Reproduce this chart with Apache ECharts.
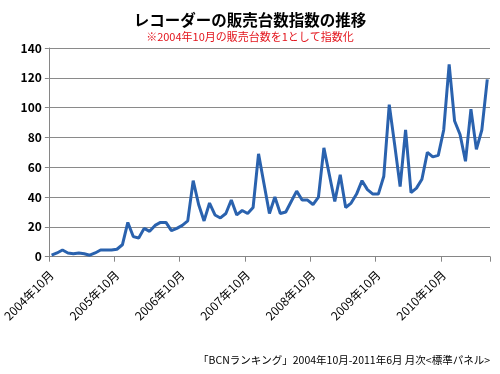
<!DOCTYPE html>
<html>
<head>
<meta charset="utf-8">
<script src="https://cdn.jsdelivr.net/npm/echarts@6/dist/echarts.min.js"></script>
<style>html,body{margin:0;padding:0;background:#fff}#c{width:500px;height:374px}</style>
</head>
<body>
<div id="c"></div>
<script>
// Month labels from 2004年10月 to 2011年6月
const startYear = 2004, startMonth = 10, monthCount = 81;
const categories = [];
for (let i = 0; i < monthCount; i++) {
  const m0 = startMonth - 1 + i;
  categories.push((startYear + Math.floor(m0 / 12)) + '年' + (m0 % 12 + 1) + '月');
}
// Sales index (2004年10月 = 1)
const indexValues = [
  1, 2.5, 4.5, 2.5, 2, 2.5, 2, 1, 2.5, 4.5, 4.5, 4.5,
  5, 8, 23, 13.5, 12.5, 19, 17, 21, 23, 23, 17.5, 19,
  21, 24, 51, 35, 24, 36, 28, 26, 29, 38, 28, 31,
  29, 33, 69, 49, 29, 40, 29, 30, 37, 44, 38, 38,
  35, 40, 73, 55, 37, 55, 33, 36, 42, 51, 45, 42,
  42, 54, 102, 75, 47, 85, 43, 46, 52, 70, 67, 68,
  85, 129, 91, 82, 64, 99, 72, 85, 119
];
const yTicks = { min: 0, max: 140, interval: 20 };
const titleText = 'レコーダーの販売台数指数の推移';
const subtitleText = '※2004年10月の販売台数を1として指数化';
const sourceText = '「BCNランキング」2004年10月-2011年6月 月次<標準パネル>';

const font = '"Noto Sans CJK JP", "Noto Sans", sans-serif';
const chart = echarts.init(document.getElementById('c'), null, { renderer: 'canvas' });
chart.setOption({
  animation: false,
  textStyle: { fontFamily: font },
  title: [
    { text: titleText, left: 'center', top: 7,
      textStyle: { fontFamily: font, fontSize: 15.5, fontWeight: 'bold', color: '#000' } },
    { text: subtitleText, left: 'center', top: 26,
      textStyle: { fontFamily: font, fontSize: 11, fontWeight: 'normal', color: '#e3141c' } }
  ],
  graphic: [
    { type: 'text', right: 10, top: 355,
      style: { text: sourceText, fontFamily: font, fontSize: 10.5, fill: '#000' } }
  ],
  grid: { left: 47.7, right: 10, top: 48, bottom: 117.3, containLabel: false },
  xAxis: {
    type: 'category',
    data: categories,
    boundaryGap: true,
    axisLine: { show: true, lineStyle: { color: '#868686', width: 1 } },
    axisTick: { show: true, interval: 11, length: 5, lineStyle: { color: '#868686' } },
    axisLabel: { interval: 11, rotate: 45, margin: 16, fontSize: 12, color: '#000', fontFamily: font }
  },
  yAxis: {
    type: 'value',
    min: yTicks.min, max: yTicks.max, interval: yTicks.interval,
    axisLine: { show: true, lineStyle: { color: '#868686', width: 1 } },
    axisTick: { show: true, length: 4, lineStyle: { color: '#868686' } },
    axisLabel: { fontSize: 12, fontWeight: 'bold', color: '#000', margin: 7, fontFamily: font },
    splitLine: { show: true, lineStyle: { color: '#8a8a8a', width: 1 } }
  },
  series: [{
    type: 'line',
    data: indexValues,
    symbol: 'none',
    smooth: false,
    lineStyle: { color: '#2a62ae', width: 3 },
    itemStyle: { color: '#2a62ae' }
  }]
});
</script>
</body>
</html>
